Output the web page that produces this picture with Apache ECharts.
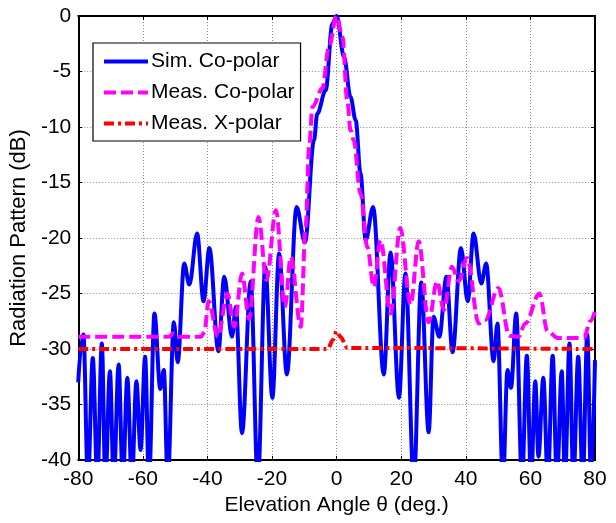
<!DOCTYPE html>
<html>
<head>
<meta charset="utf-8">
<script src="https://cdn.jsdelivr.net/npm/echarts@6/dist/echarts.min.js"></script>
<style>
html,body{margin:0;padding:0;background:#fff;}
#chart{width:616px;height:523px;}
</style>
</head>
<body>
<div id="chart"></div>
<script>
// ---- data ----
const xTicks = [-80, -60, -40, -20, 0, 20, 40, 60, 80];
const yTicks = [-40, -35, -30, -25, -20, -15, -10, -5, 0];

const simAngles = [-80,-79.2,-78.4,-77.0,-75.5,-74.1,-72.7,-71.6,-70.2,-69.0,-67.5,-66.2,-64.8,-63.4,-62.0,-60.7,-59.3,-58.1,-56.4,-54.6,-53.5,-52.3,-50.4,-49.2,-47.2,-45.6,-43.2,-41.2,-39.4,-36.6,-34.8,-32.4,-31.2,-29.3,-26.6,-24.4,-22.1,-19.9,-17.8,-15.4,-12.4,-9.8,-7.0,-6.0,-3.4,-1.3,0,2.3,4.3,5.9,7.4,9.0,11.3,14.6,16.7,19.3,21.3,23.9,26.2,28.5,30.0,31.8,34.0,35.9,38.5,40.6,42.4,44.8,46.3,48.6,49.8,51.5,52.9,54.0,55.6,57.4,58.9,60.2,61.5,62.5,64.0,65.4,66.9,68.2,69.7,70.7,72.1,73.3,74.8,76.2,77.6,78.8,80];
const simValues = [-33,-30,-28.7,-42,-30.8,-42,-29.5,-42,-32.0,-42,-31.4,-42,-32.6,-42,-32.9,-39.1,-30.7,-42,-26.8,-33.6,-31.9,-42,-27.6,-31.2,-22.3,-24.2,-19.6,-25.7,-20.9,-30.2,-23.5,-28.9,-26.2,-37.6,-23.9,-42,-22.6,-34.4,-21.4,-32.3,-17.2,-20.4,-11.2,-8.8,-6.7,-0.7,0,-3.7,-7.3,-9.4,-14.2,-20.2,-17.2,-32.3,-21.3,-34.4,-23.2,-42,-24.0,-37.5,-27.1,-28.9,-23.5,-30.3,-20.9,-25.7,-19.6,-24.1,-22.3,-31.1,-27.7,-42,-31.9,-33.5,-26.8,-42,-30.6,-42,-32.9,-39.7,-32.6,-42,-30.6,-42,-32.0,-42,-29.5,-42,-30.7,-42,-28.7,-42,-31];

const measAngles = [-80,-52,-50.5,-49,-42,-41,-39.6,-36.8,-33.8,-31.7,-29.3,-27.1,-24.2,-21.7,-18.8,-16.0,-14.2,-11.1,-9.6,-8.5,-7.5,-4.4,-2.4,0,1.8,3.3,4.3,5.3,7.4,9.5,11.5,13.6,16.7,19.7,22.9,25.4,28.5,31.1,33.2,35.7,37.8,40.4,44.0,46.0,50.1,53.5,56.3,58.4,62.8,65.3,68.5,76.6,78.5,80];
const measValues = [-28.9,-28.9,-28.6,-28.9,-28.9,-28.5,-25.7,-28.9,-25.0,-28.0,-23.2,-27.3,-18.1,-23.8,-17.5,-26.2,-21.7,-28.0,-19.0,-11.8,-8.2,-6.5,-2.8,0,-1.9,-7.6,-10.3,-11.2,-16.0,-20.8,-24.4,-20.2,-26.8,-19.1,-26.0,-20.3,-27.6,-23.9,-26.5,-22.6,-23.9,-21.8,-27.7,-27.4,-24.5,-28.8,-28.9,-27.7,-25.0,-28.4,-29.0,-29.0,-27.5,-26.6];

const xpolAngles = [-80,-2.7,-1.2,0,1.2,3.3,80];
const xpolValues = [-30,-30,-29.2,-28.4,-28.9,-29.9,-30];

const seriesNames = ['Sim. Co-polar', 'Meas. Co-polar', 'Meas. X-polar'];

const zip = (a, b) => a.map((v, i) => [v, b[i]]);

const FONT = "Arial, 'Liberation Sans', sans-serif";

const chart = echarts.init(document.getElementById('chart'), null, {renderer: 'canvas'});

const gridLine = {show: true, lineStyle: {color: '#8a8a8a', type: [1, 2], width: 1}};

chart.setOption({
  animation: false,
  backgroundColor: '#fff',
  textStyle: {fontFamily: FONT},
  grid: {left: 77, right: 21, top: 16, bottom: 63, containLabel: false},
  legend: {
    orient: 'vertical',
    left: 93, top: 43,
    padding: [8, 6, 7, 9],
    itemGap: 10,
    itemWidth: 44,
    itemHeight: 21,
    backgroundColor: '#fff',
    borderColor: '#000',
    borderWidth: 1.2,
    borderRadius: 0,
    itemStyle: {opacity: 0},
    lineStyle: {width: 4},
    textStyle: {fontFamily: FONT, fontSize: 21, color: '#000', padding: [0, 0, 0, -2]},
    data: seriesNames
  },
  xAxis: [{
    type: 'value', min: xTicks[0], max: xTicks[xTicks.length - 1], interval: 20,
    position: 'bottom',
    name: 'Elevation Angle θ (deg.)', nameLocation: 'middle', nameGap: 34,
    nameTextStyle: {fontFamily: FONT, fontSize: 21, color: '#000'},
    axisLine: {show: true, onZero: false, lineStyle: {color: '#000', width: 2}},
    axisTick: {show: true, inside: true, length: 4, lineStyle: {color: '#000'}},
    axisLabel: {fontFamily: FONT, fontSize: 21, color: '#000', margin: 9},
    splitLine: gridLine
  }, {
    type: 'value', min: xTicks[0], max: xTicks[xTicks.length - 1], interval: 20,
    position: 'top',
    axisLine: {show: true, onZero: false, lineStyle: {color: '#000', width: 2}},
    axisTick: {show: true, inside: true, length: 4, lineStyle: {color: '#000'}},
    axisLabel: {show: false},
    splitLine: {show: false}
  }],
  yAxis: [{
    type: 'value', min: yTicks[0], max: yTicks[yTicks.length - 1], interval: 5,
    position: 'left',
    name: 'Radiation Pattern (dB)', nameLocation: 'middle', nameGap: 42,
    nameTextStyle: {fontFamily: FONT, fontSize: 22, color: '#000'},
    axisLine: {show: true, onZero: false, lineStyle: {color: '#000', width: 2}},
    axisTick: {show: true, inside: true, length: 4, lineStyle: {color: '#000'}},
    axisLabel: {fontFamily: FONT, fontSize: 21, color: '#000', margin: 7},
    splitLine: gridLine
  }, {
    type: 'value', min: yTicks[0], max: yTicks[yTicks.length - 1], interval: 5,
    position: 'right',
    axisLine: {show: true, onZero: false, lineStyle: {color: '#000', width: 2}},
    axisTick: {show: true, inside: true, length: 4, lineStyle: {color: '#000'}},
    axisLabel: {show: false},
    splitLine: {show: false}
  }],
  series: [{
    name: seriesNames[0], type: 'line', xAxisIndex: 0, yAxisIndex: 0,
    data: zip(simAngles, simValues),
    symbol: 'none', smooth: 0.35, smoothMonotone: 'x', clip: true,
    lineStyle: {color: '#0000ff', width: 4}, itemStyle: {color: '#0000ff'}, z: 3
  }, {
    name: seriesNames[1], type: 'line', xAxisIndex: 0, yAxisIndex: 0,
    data: zip(measAngles, measValues),
    symbol: 'none', smooth: 0.35, smoothMonotone: 'x', clip: true,
    lineStyle: {color: '#ff00ff', width: 4, type: [12, 5]}, itemStyle: {color: '#ff00ff'}, z: 4
  }, {
    name: seriesNames[2], type: 'line', xAxisIndex: 0, yAxisIndex: 0,
    data: zip(xpolAngles, xpolValues),
    symbol: 'none', smooth: 0.3, smoothMonotone: 'x', clip: true,
    lineStyle: {color: '#ff0000', width: 4, type: [10, 4, 3, 4]}, itemStyle: {color: '#ff0000'}, z: 5
  }]
});
</script>
</body>
</html>
